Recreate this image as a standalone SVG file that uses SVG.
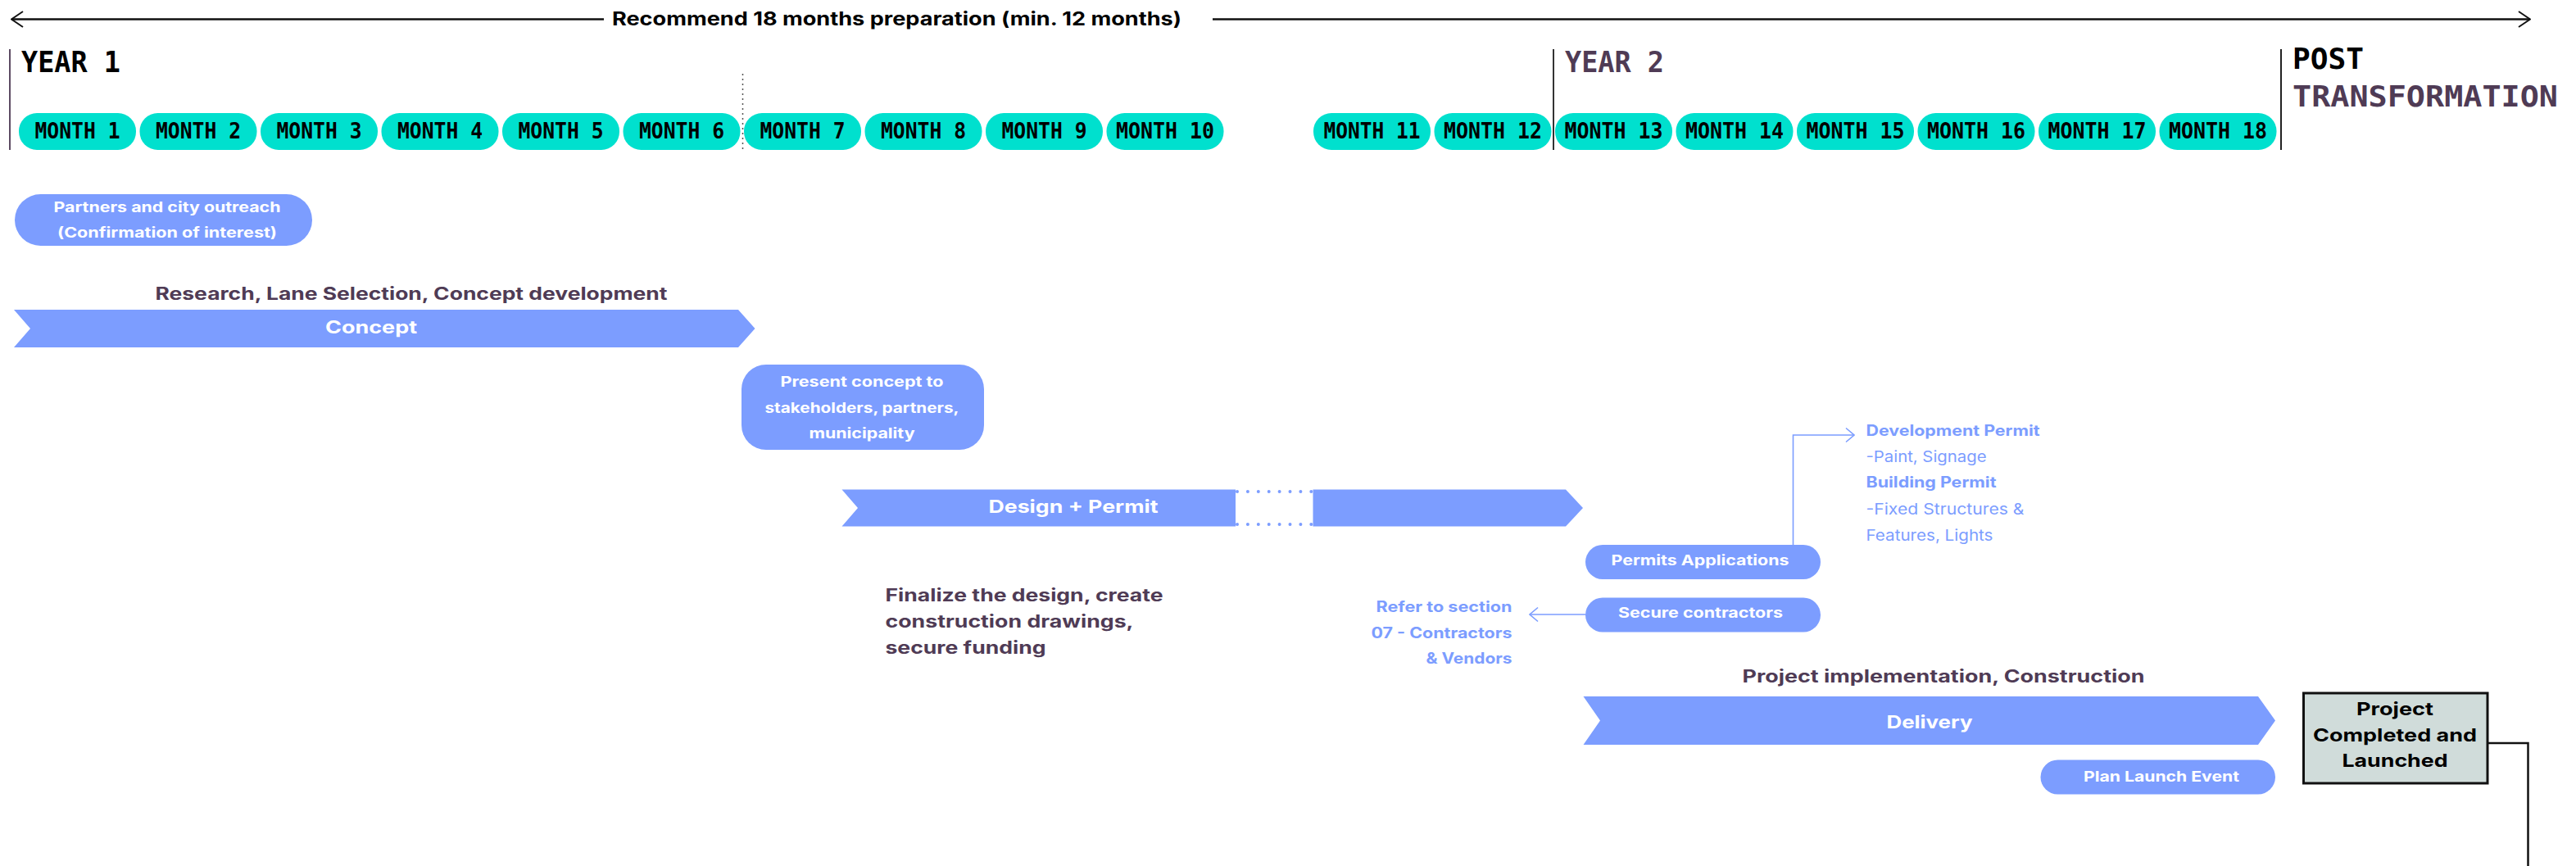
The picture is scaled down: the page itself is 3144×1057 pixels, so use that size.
<svg xmlns="http://www.w3.org/2000/svg" width="3144" height="1057" viewBox="0 0 3144 1057">
<style>
.mp{fill:#00E0CE}
.ml{font-family:"DejaVu Sans Mono",monospace;font-size:26px;font-weight:bold;fill:#000;text-anchor:middle}
.yr{font-family:"DejaVu Sans Mono",monospace;font-size:36px;font-weight:bold}
.blk{fill:#000}
.pur{fill:#4F3B55}
.pill{fill:#7C9DFF}
.arr{fill:#7C9DFF}
.sans{font-family:Inter,"Liberation Sans",sans-serif}
.pt{font-family:Inter,"Liberation Sans",sans-serif;font-weight:700;font-size:17.5px;fill:#fff;text-anchor:middle}
.at{font-family:Inter,"Liberation Sans",sans-serif;font-weight:700;font-size:22px;fill:#fff;text-anchor:middle}
.lbl{font-family:Inter,"Liberation Sans",sans-serif;font-weight:700;font-size:21px;fill:#4F3B55}
.note{font-family:Inter,"Liberation Sans",sans-serif;font-size:18.5px;fill:#7C9DFF}
.b{font-weight:700}
.conn{fill:none;stroke:#7C9DFF;stroke-width:1.6}
.kconn{fill:none;stroke:#111;stroke-width:2.5}
</style>
<defs>
<marker id="chevK" markerUnits="userSpaceOnUse" viewBox="0 0 16 22" refX="15" refY="11" markerWidth="16" markerHeight="22" orient="auto-start-reverse">
<path d="M1,1.5 L15,11 L1,20.5" fill="none" stroke="#111" stroke-width="2"/>
</marker>
<marker id="chevB" markerUnits="userSpaceOnUse" viewBox="0 0 12 20" refX="11" refY="10" markerWidth="12" markerHeight="20" orient="auto">
<path d="M1,1.5 L11,10 L1,18.5" fill="none" stroke="#7C9DFF" stroke-width="1.6"/>
</marker>
</defs>

<g id="header">
<text x="747" y="31" class="sans b" font-size="23" fill="#000" textLength="695" lengthAdjust="spacingAndGlyphs">Recommend 18 months preparation (min. 12 months)</text>
<text x="26" y="88" class="yr blk" textLength="121" lengthAdjust="spacingAndGlyphs">YEAR 1</text>
<text x="1910" y="88" class="yr pur" textLength="121" lengthAdjust="spacingAndGlyphs">YEAR 2</text>
<text x="2798" y="84" class="yr blk" textLength="87" lengthAdjust="spacingAndGlyphs">POST</text>
<text x="2798" y="129.5" class="yr pur" textLength="324" lengthAdjust="spacingAndGlyphs">TRANSFORMATION</text>
<line x1="12" y1="60" x2="12" y2="183" stroke="#5D4B63" stroke-width="2"/>
<line x1="906.5" y1="90" x2="906.5" y2="183" stroke="#555" stroke-width="1.5" stroke-dasharray="2 4"/>
<line x1="1896" y1="60" x2="1896" y2="183" stroke="#333" stroke-width="2"/>
<line x1="2784" y1="60" x2="2784" y2="183" stroke="#222" stroke-width="2"/>
</g>

<g id="months">
<g id="m1"><rect class="mp" x="23" y="138" width="143" height="45" rx="22"/><text class="ml" x="94.5" y="169" textLength="104" lengthAdjust="spacingAndGlyphs">MONTH 1</text></g>
<g id="m2"><rect class="mp" x="170.5" y="138" width="143" height="45" rx="22"/><text class="ml" x="242" y="169" textLength="104" lengthAdjust="spacingAndGlyphs">MONTH 2</text></g>
<g id="m3"><rect class="mp" x="318" y="138" width="143" height="45" rx="22"/><text class="ml" x="389.5" y="169" textLength="104" lengthAdjust="spacingAndGlyphs">MONTH 3</text></g>
<g id="m4"><rect class="mp" x="465.5" y="138" width="143" height="45" rx="22"/><text class="ml" x="537" y="169" textLength="104" lengthAdjust="spacingAndGlyphs">MONTH 4</text></g>
<g id="m5"><rect class="mp" x="613" y="138" width="143" height="45" rx="22"/><text class="ml" x="684.5" y="169" textLength="104" lengthAdjust="spacingAndGlyphs">MONTH 5</text></g>
<g id="m6"><rect class="mp" x="760.5" y="138" width="143" height="45" rx="22"/><text class="ml" x="832" y="169" textLength="104" lengthAdjust="spacingAndGlyphs">MONTH 6</text></g>
<g id="m7"><rect class="mp" x="908" y="138" width="143" height="45" rx="22"/><text class="ml" x="979.5" y="169" textLength="104" lengthAdjust="spacingAndGlyphs">MONTH 7</text></g>
<g id="m8"><rect class="mp" x="1055.5" y="138" width="143" height="45" rx="22"/><text class="ml" x="1127" y="169" textLength="104" lengthAdjust="spacingAndGlyphs">MONTH 8</text></g>
<g id="m9"><rect class="mp" x="1203" y="138" width="143" height="45" rx="22"/><text class="ml" x="1274.5" y="169" textLength="104" lengthAdjust="spacingAndGlyphs">MONTH 9</text></g>
<g id="m10"><rect class="mp" x="1350.5" y="138" width="143" height="45" rx="22"/><text class="ml" x="1422" y="169" textLength="120" lengthAdjust="spacingAndGlyphs">MONTH 10</text></g>
<g id="m11"><rect class="mp" x="1603" y="138" width="143" height="45" rx="22"/><text class="ml" x="1674.5" y="169" textLength="118" lengthAdjust="spacingAndGlyphs">MONTH 11</text></g>
<g id="m12"><rect class="mp" x="1750.5" y="138" width="143" height="45" rx="22"/><text class="ml" x="1822" y="169" textLength="120" lengthAdjust="spacingAndGlyphs">MONTH 12</text></g>
<g id="m13"><rect class="mp" x="1898" y="138" width="143" height="45" rx="22"/><text class="ml" x="1969.5" y="169" textLength="120" lengthAdjust="spacingAndGlyphs">MONTH 13</text></g>
<g id="m14"><rect class="mp" x="2045.5" y="138" width="143" height="45" rx="22"/><text class="ml" x="2117" y="169" textLength="120" lengthAdjust="spacingAndGlyphs">MONTH 14</text></g>
<g id="m15"><rect class="mp" x="2193" y="138" width="143" height="45" rx="22"/><text class="ml" x="2264.5" y="169" textLength="120" lengthAdjust="spacingAndGlyphs">MONTH 15</text></g>
<g id="m16"><rect class="mp" x="2340.5" y="138" width="143" height="45" rx="22"/><text class="ml" x="2412" y="169" textLength="120" lengthAdjust="spacingAndGlyphs">MONTH 16</text></g>
<g id="m17"><rect class="mp" x="2488" y="138" width="143" height="45" rx="22"/><text class="ml" x="2559.5" y="169" textLength="120" lengthAdjust="spacingAndGlyphs">MONTH 17</text></g>
<g id="m18"><rect class="mp" x="2635.5" y="138" width="143" height="45" rx="22"/><text class="ml" x="2707" y="169" textLength="120" lengthAdjust="spacingAndGlyphs">MONTH 18</text></g>
</g>

<g id="partners">
<rect class="pill" x="18" y="237" width="363" height="63" rx="31.5"/>
<text class="pt" x="204" y="258.5" textLength="277" lengthAdjust="spacingAndGlyphs">Partners and city outreach</text>
<text class="pt" x="204" y="290" textLength="268" lengthAdjust="spacingAndGlyphs">(Confirmation of interest)</text>
</g>

<g id="concept">
<text class="lbl" x="502" y="365.5" text-anchor="middle" textLength="625" lengthAdjust="spacingAndGlyphs">Research, Lane Selection, Concept development</text>
<polygon class="arr" points="17,378 901,378 921.5,401 901,424 17,424 37,401"/>
<text class="at" x="453" y="407" font-size="23" textLength="112" lengthAdjust="spacingAndGlyphs">Concept</text>
</g>

<g id="present">
<rect class="pill" x="905" y="445" width="296" height="104" rx="30"/>
<text class="pt" x="1052" y="471.5" textLength="199" lengthAdjust="spacingAndGlyphs">Present concept to</text>
<text class="pt" x="1052" y="503.5" textLength="237" lengthAdjust="spacingAndGlyphs">stakeholders, partners,</text>
<text class="pt" x="1052" y="535" textLength="129" lengthAdjust="spacingAndGlyphs">municipality</text>
</g>

<g id="design">
<polygon class="arr" points="1027.5,597.5 1508,597.5 1508,642.5 1027.5,642.5 1047,620"/>
<polygon class="arr" points="1602.5,597.5 1911,597.5 1932,620 1911,642.5 1602.5,642.5"/>
<line x1="1510" y1="600" x2="1601" y2="600" stroke="#7C9DFF" stroke-width="4" stroke-linecap="round" stroke-dasharray="0 12.9"/>
<line x1="1510" y1="640" x2="1601" y2="640" stroke="#7C9DFF" stroke-width="4" stroke-linecap="round" stroke-dasharray="0 12.9"/>
<text class="at" x="1310" y="625.5" textLength="207" lengthAdjust="spacingAndGlyphs">Design + Permit</text>
</g>

<g id="finalize">
<text class="lbl" x="1080.5" y="734" textLength="339" lengthAdjust="spacingAndGlyphs">Finalize the design, create</text>
<text class="lbl" x="1080.5" y="766" textLength="303" lengthAdjust="spacingAndGlyphs">construction drawings,</text>
<text class="lbl" x="1080.5" y="797.5" textLength="196" lengthAdjust="spacingAndGlyphs">secure funding</text>
</g>

<g id="permits">
<rect class="pill" x="1935" y="665" width="287" height="42" rx="21"/>
<text class="pt" x="2075" y="689.5" textLength="217" lengthAdjust="spacingAndGlyphs">Permits Applications</text>
</g>

<g id="permit-notes">
<text class="note b" x="2277.5" y="532" textLength="212" lengthAdjust="spacingAndGlyphs">Development Permit</text>
<text class="note" x="2277.5" y="563.5" textLength="147" lengthAdjust="spacingAndGlyphs">-Paint, Signage</text>
<text class="note b" x="2277.5" y="595" textLength="159" lengthAdjust="spacingAndGlyphs">Building Permit</text>
<text class="note" x="2277.5" y="627.5" textLength="193" lengthAdjust="spacingAndGlyphs">-Fixed Structures &amp;</text>
<text class="note" x="2277.5" y="659.5" textLength="155" lengthAdjust="spacingAndGlyphs">Features, Lights</text>
</g>

<g id="secure">
<rect class="pill" x="1935" y="729.5" width="287" height="42" rx="21"/>
<text class="pt" x="2075.5" y="754" textLength="201" lengthAdjust="spacingAndGlyphs">Secure contractors</text>
</g>

<g id="refer">
<text class="note b" x="1845.5" y="747" text-anchor="end" textLength="166" lengthAdjust="spacingAndGlyphs">Refer to section</text>
<text class="note b" x="1845.5" y="778.5" text-anchor="end" textLength="172" lengthAdjust="spacingAndGlyphs">07 - Contractors</text>
<text class="note b" x="1845.5" y="810" text-anchor="end" textLength="105" lengthAdjust="spacingAndGlyphs">&amp; Vendors</text>
</g>

<g id="delivery">
<text class="lbl" x="2372" y="833" text-anchor="middle" textLength="491" lengthAdjust="spacingAndGlyphs">Project implementation, Construction</text>
<polygon class="arr" points="1932.5,850 2756,850 2777,879.5 2756,909 1932.5,909 1953,879.5"/>
<text class="at" x="2355" y="888.5" textLength="105" lengthAdjust="spacingAndGlyphs">Delivery</text>
</g>

<g id="launch">
<rect class="pill" x="2490.5" y="927.5" width="286.5" height="42" rx="21"/>
<text class="pt" x="2638" y="954" textLength="190" lengthAdjust="spacingAndGlyphs">Plan Launch Event</text>
</g>

<g id="completed">
<rect x="2811.5" y="846" width="224.5" height="110" fill="#D0DCDA" stroke="#111" stroke-width="3"/>
<text class="sans b" x="2923" y="873" font-size="22" fill="#000" text-anchor="middle" textLength="94" lengthAdjust="spacingAndGlyphs">Project</text>
<text class="sans b" x="2923" y="905" font-size="22" fill="#000" text-anchor="middle" textLength="200" lengthAdjust="spacingAndGlyphs">Completed and</text>
<text class="sans b" x="2923" y="936" font-size="22" fill="#000" text-anchor="middle" textLength="129" lengthAdjust="spacingAndGlyphs">Launched</text>
</g>

<g id="connectors">
<line x1="737" y1="23.5" x2="14" y2="23.5" stroke="#111" stroke-width="2.5" marker-end="url(#chevK)"/>
<line x1="1480" y1="23.5" x2="3088" y2="23.5" stroke="#111" stroke-width="2.5" marker-end="url(#chevK)"/>
<path class="conn" d="M2188.5,665 V531 H2263" marker-end="url(#chevB)"/>
<path class="conn" d="M1935,750 H1867" marker-end="url(#chevB)"/>
<path class="kconn" d="M3036,907 H3085.5 V1057"/>
</g>
</svg>
